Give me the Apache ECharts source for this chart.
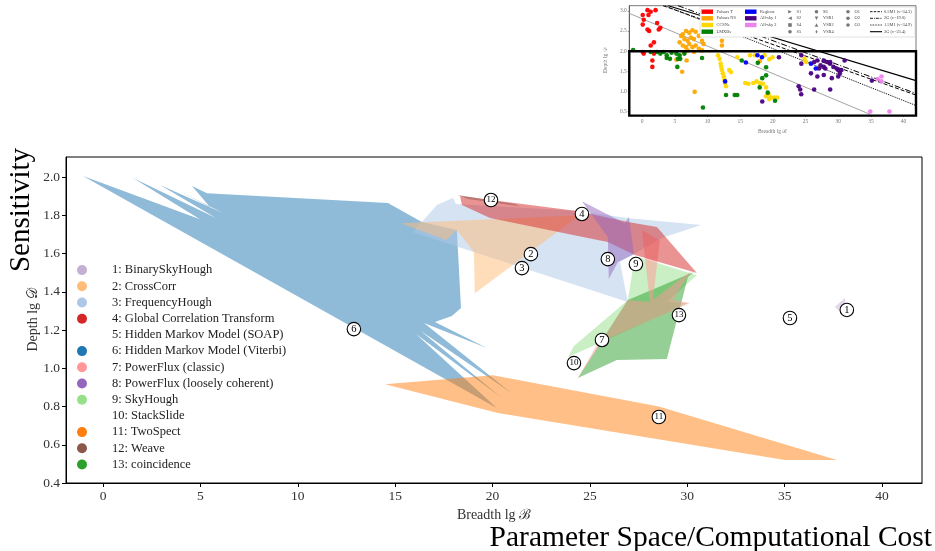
<!DOCTYPE html>
<html>
<head>
<meta charset="utf-8">
<script src="https://cdn.jsdelivr.net/npm/echarts@6/dist/echarts.min.js"></script>
<style>
  html, body { margin: 0; padding: 0; background: #fff; }
  #main { position: absolute; left: 0; top: 0; width: 935px; height: 551px; }
  #inset { position: absolute; left: 595px; top: 0; width: 340px; height: 140px; filter: blur(0.45px); }
</style>
</head>
<body>
<div id="main"></div>
<div id="inset"></div>
<script>
// ---------- main chart data: search methods in (breadth, depth) space ----------
const xTicks = [0, 5, 10, 15, 20, 25, 30, 35, 40];
const yTicks = [0.4, 0.6, 0.8, 1.0, 1.2, 1.4, 1.6, 1.8, 2.0];

const methodNames = [
  '1: BinarySkyHough', '2: CrossCorr', '3: FrequencyHough', '4: Global Correlation Transform',
  '5: Hidden Markov Model (SOAP)', '6: Hidden Markov Model (Viterbi)', '7: PowerFlux (classic)',
  '8: PowerFlux (loosely coherent)', '9: SkyHough', '10: StackSlide', '11: TwoSpect', '12: Weave',
  '13: coincidence'
];
const methodColors = [
  '#c5b0d5', '#ffbb78', '#aec7e8', '#d62728', null, '#1f77b4', '#ff9896',
  '#9467bd', '#98df8a', null, '#ff7f0e', '#8c564b', '#2ca02c'
];

// region outlines, [breadth, depth] vertices
const binarySkyHough = [[37.57, 1.320], [38.09, 1.367], [38.19, 1.268]];
const crossCorr = [[15.30, 1.759], [24.48, 1.801], [19.09, 1.393], [19.04, 1.608], [18.17, 1.723], [17.61, 1.671]];
const frequencyHough = [[15.91, 1.712], [17.14, 1.854], [17.97, 1.890], [18.12, 1.859], [24.48, 1.822], [26.90, 1.786],
  [30.70, 1.749], [28.69, 1.681], [26.54, 1.556], [26.95, 1.346]];
const globalCorrelation = [[18.33, 1.901], [24.33, 1.822], [26.95, 1.765], [28.44, 1.739], [30.49, 1.498], [27.31, 1.592],
  [25.92, 1.660], [24.64, 1.686], [19.87, 1.786], [18.43, 1.854]];
const hmmSoap = [];
const hmmViterbi = [[-1.03, 2.005], [4.98, 1.780], [1.54, 1.995], [5.80, 1.786], [2.93, 1.958], [6.16, 1.812],
  [3.80, 1.932], [5.49, 1.843], [4.57, 1.953], [5.34, 1.916], [14.63, 1.864], [16.37, 1.765], [18.17, 1.723],
  [18.38, 1.315], [17.91, 1.273], [17.04, 1.242], [19.71, 1.106], [16.48, 1.237], [20.99, 0.870], [16.32, 1.195],
  [20.48, 0.844], [16.07, 1.179], [20.22, 0.792]];
const powerFluxClassic = [[24.33, 0.938], [26.95, 1.357], [28.08, 1.346], [27.67, 1.723], [28.59, 1.670], [28.23, 1.357],
  [30.18, 1.508], [29.26, 1.357], [30.13, 1.341], [25.41, 1.132]];
const powerFluxLoose = [[24.59, 1.874], [26.79, 1.759], [27.00, 1.791], [27.26, 1.597], [26.43, 1.556], [25.97, 1.467], [25.92, 1.686]];
const skyHough = [[27.31, 1.587], [30.49, 1.487], [28.95, 1.346], [30.03, 1.341], [25.51, 1.132], [23.87, 1.059], [24.18, 1.116], [26.95, 1.357]];
const stackSlide = [];
const twoSpect = [[14.48, 0.917], [20.02, 0.964], [28.54, 0.800], [37.68, 0.520], [35.01, 0.520], [20.28, 0.766]];
const weave = [[18.22, 1.906], [21.15, 1.859], [21.40, 1.848], [18.74, 1.885]];
const coincidence = [[24.38, 0.949], [26.38, 1.043], [28.95, 1.048], [30.03, 1.477], [30.34, 1.503], [26.95, 1.357]];

const regions = [binarySkyHough, crossCorr, frequencyHough, globalCorrelation, hmmSoap, hmmViterbi,
  powerFluxClassic, powerFluxLoose, skyHough, stackSlide, twoSpect, weave, coincidence];

// numbered markers naming each method
const markerX = [38.19, 21.97, 21.51, 24.59, 35.27, 12.88, 25.62, 25.92, 27.36, 24.18, 28.54, 19.92, 29.57];
const markerY = [1.305, 1.597, 1.524, 1.807, 1.263, 1.205, 1.148, 1.571, 1.545, 1.027, 0.745, 1.880, 1.278];

// painting order of the translucent regions (indices into the lists above)
const paintOrder = [5, 10, 2, 1, 8, 12, 6, 3, 7, 11, 0, 4, 9];

// ---------- inset data: individual searches ----------
const insetXTicks = [0, 5, 10, 15, 20, 25, 30, 35, 40];
const insetYTicks = [0.5, 1.0, 1.5, 2.0, 2.5, 3.0];

const pulsarsTX = [0.1, 0.25, 0.1, 0.83, 1.32, 0.98, 2.06, 2.30, 0.83, 1.08, 2.55, 2.79, 1.32, 1.81, 1.81, 0.1, 0.25, 1.57, 1.57];
const pulsarsTY = [2.90, 2.78, 2.66, 3.02, 2.98, 2.90, 3.02, 2.70, 2.54, 2.50, 2.54, 2.58, 2.14, 2.22, 1.94, 1.98, 1.94, 1.77, 1.61];
const pulsarsNSX = [5.98, 6.23, 6.72, 7.21, 7.70, 8.19, 6.47, 6.96, 7.45, 7.94, 8.68, 9.17, 9.41, 6.23, 6.72, 7.21, 7.70, 8.19,
  8.68, 6.47, 6.96, 7.94, 9.17, 6.81, 6.13, 8.04, 12.21, 12.21, 17.99, 5.74, 5.25];
const pulsarsNSY = [2.38, 2.42, 2.50, 2.46, 2.52, 2.48, 2.30, 2.26, 2.34, 2.30, 2.38, 2.26, 2.18, 2.14, 2.10, 2.18, 2.10, 2.14,
  2.06, 1.98, 2.02, 1.98, 2.02, 1.77, 1.49, 0.99, 2.26, 2.14, 1.75, 2.22, 1.79];
const ccsneX = [11.62, 11.86, 12.01, 12.11, 12.21, 12.35, 12.50, 12.60, 12.70, 12.84, 13.33, 13.58, 14.56, 16.52, 17.25, 18.73,
  19.95, 19.46, 15.78, 16.27, 17.01, 17.50, 17.99, 18.48, 18.97, 18.97, 19.36, 19.71, 20.20, 20.69, 19.46, 24.85, 25.10];
const ccsneY = [1.90, 1.81, 1.69, 1.61, 1.53, 1.45, 1.37, 1.29, 1.21, 1.13, 1.53, 1.48, 1.85, 1.90, 1.90, 1.90,
  1.85, 1.80, 1.21, 1.19, 1.21, 1.25, 1.21, 1.19, 1.10, 0.88, 0.93, 0.85, 0.85, 0.85, 0.81, 1.81, 1.73];
const lmxbX = [-1.37, 1.32, 2.30, 2.79, 3.28, 3.77, 4.51, 5.25, 4.26, 3.77, 5.74, 6.47, 5.49, 5.83, 5.39, 9.17, 15.25, 17.70,
  18.97, 18.38, 18.97, 17.99, 12.84, 14.17, 14.56, 19.22, 20.34, 9.31];
const lmxbY = [2.03, 1.98, 1.98, 1.94, 1.98, 1.90, 1.96, 1.94, 1.81, 1.83, 1.90, 1.94, 1.81, 1.81, 1.61, 1.83, 1.77, 1.71,
  1.60, 1.33, 1.40, 1.10, 0.91, 0.91, 0.91, 0.97, 0.77, 0.60];
const regionsX = [12.70, 15.88, 17.65, 18.33, 25.83, 26.57];
const regionsY = [1.25, 1.72, 1.90, 1.85, 1.69, 1.57];
const allSky1X = [24.36, 20.93, 24.36, 26.32, 26.81, 27.79, 28.28, 28.77, 27.30, 27.79, 27.06, 29.26, 29.75, 30.00, 30.49, 30.25,
  30.98, 25.83, 26.81, 27.79, 29.02, 30.00, 23.95, 24.19, 24.34, 26.32, 28.77, 35.15, 28.77, 28.03, 18.38];
const allSky1Y = [1.90, 1.85, 1.69, 1.73, 1.77, 1.77, 1.73, 1.69, 1.65, 1.61, 1.57, 1.61, 1.57, 1.53, 1.53, 1.45,
  1.77, 1.45, 1.37, 1.41, 1.33, 1.37, 1.13, 1.05, 0.93, 1.05, 1.05, 1.27, 1.73, 1.57, 0.75];
const allSky2X = [36.03, 36.62, 36.62, 34.90, 37.84];
const allSky2Y = [1.31, 1.37, 1.25, 0.50, 0.50];

// reference sensitivity lines: [x0, y0, x1, y1]
const grayLine = [-1.96, 2.94, 34.9, 0.43];
const curveNames = ['0.5M1 (\u03bd=34.3)', '2G (\u03bd=19.0)', '1.5M1 (\u03bd=34.9)', '2G (\u03bd=23.4)'];
const curveStarts = [[3.2, 3.13], [5.5, 3.13], [3.5, 3.13], [4.0, 3.13]];
const curveEnds = [[41.9, 0.91], [41.9, 0.95], [41.9, 0.65], [41.9, 1.27]];
const curveDash = ['dashed', [6, 2, 1, 2], 'dotted', 'solid'];

// highlighted sub-range shown in the main chart
const zoomBox = { x0: -1.96, x1: 41.9, y0: 0.4, y1: 2.0 };

// ---------- helpers ----------
const SERIF = '"Liberation Serif", "DejaVu Serif", serif';
function rgba(hex, a) {
  const n = parseInt(hex.slice(1), 16);
  return 'rgba(' + (n >> 16 & 255) + ',' + (n >> 8 & 255) + ',' + (n & 255) + ',' + a + ')';
}
function regionSeries(i) {
  const verts = regions[i];
  const color = methodColors[i];
  return {
    type: 'custom',
    name: methodNames[i],
    silent: true,
    itemStyle: { color: color || 'rgba(0,0,0,0)' },
    data: verts,
    encode: { x: 0, y: 1 },
    renderItem: function (params, api) {
      if (params.dataIndex !== 0 || !color) return null;
      return {
        type: 'polygon',
        shape: { points: verts.map(v => api.coord(v)) },
        style: { fill: rgba(color, 0.5), stroke: null }
      };
    }
  };
}

// ---------- main chart ----------
const main = echarts.init(document.getElementById('main'), null, { renderer: 'canvas' });
const mainSeries = paintOrder.map(regionSeries);
mainSeries.push({
  type: 'scatter',
  name: 'ids',
  silent: true,
  z: 10,
  symbol: 'circle',
  symbolSize: 13.5,
  itemStyle: { color: '#fff', borderColor: '#000', borderWidth: 1.1, opacity: 1 },
  data: markerX.map((x, i) => ({
    value: [x, markerY[i]],
    label: { fontSize: i >= 9 ? 9 : 10.5 }
  })),
  label: {
    show: true, position: 'inside', color: '#000', fontFamily: SERIF,
    formatter: p => String(p.dataIndex + 1)
  }
});

main.setOption({
  animation: false,
  backgroundColor: '#fff',
  grid: { left: 66, right: 13, top: 157, bottom: 68, show: true, borderColor: '#000', borderWidth: 1 },
  xAxis: {
    type: 'value', min: -1.9, max: 42.05,
    axisLine: { onZero: false, lineStyle: { color: '#000', width: 1 } },
    axisTick: { customValues: xTicks, length: 4, lineStyle: { color: '#000' } },
    axisLabel: { customValues: xTicks, fontFamily: SERIF, fontSize: 13.5, color: '#333', margin: 6,
      formatter: v => String(v) },
    splitLine: { show: false },
    name: 'Breadth lg \u212c', nameLocation: 'middle', nameGap: 24,
    nameTextStyle: { fontFamily: SERIF, fontSize: 14, color: '#333' }
  },
  yAxis: {
    type: 'value', min: 0.4, max: 2.105,
    axisLine: { onZero: false, lineStyle: { color: '#000', width: 1 } },
    axisTick: { customValues: yTicks, length: 4, lineStyle: { color: '#000' } },
    axisLabel: { customValues: yTicks, fontFamily: SERIF, fontSize: 13.5, color: '#333', margin: 6,
      formatter: v => v.toFixed(1) },
    splitLine: { show: false },
    name: 'Depth lg \ud835\udc9f', nameLocation: 'middle', nameGap: 26, nameMoveOverlap: false,
    nameTextStyle: { fontFamily: SERIF, fontSize: 14, color: '#333' }
  },
  legend: {
    orient: 'vertical', left: 77, top: 262, padding: 0,
    selectedMode: false,
    itemWidth: 10, itemHeight: 10, itemGap: 0,
    data: methodNames.map((n, i) => ({
      name: n, icon: 'circle',
      itemStyle: { color: methodColors[i] || 'rgba(0,0,0,0)' }
    })),
    textStyle: { fontFamily: SERIF, fontSize: 12.5, color: '#222', lineHeight: 16.2, padding: [0, 0, 0, 20] }
  },
  graphic: [
    { type: 'text', x: 21, y: 210, rotation: Math.PI / 2,
      style: { text: 'Sensitivity', fontFamily: SERIF, fontSize: 29, fill: '#000', align: 'center', verticalAlign: 'middle' } },
    { type: 'text', x: 932, y: 538,
      style: { text: 'Parameter Space/Computational Cost', fontFamily: SERIF, fontSize: 29.5, fill: '#000', align: 'right', verticalAlign: 'middle' } }
  ],
  series: mainSeries
});

// ---------- inset chart ----------
const inset = echarts.init(document.getElementById('inset'), null, { renderer: 'canvas' });
function pts(xs, ys) { return xs.map((x, i) => [x, ys[i]]); }
function dots(name, xs, ys, color) {
  return { type: 'scatter', name, silent: true, symbol: 'circle', symbolSize: 4.6,
    itemStyle: { color, opacity: 0.95 }, data: pts(xs, ys), z: 4 };
}
const insetSeries = [
  { type: 'line', silent: true, symbol: 'none', data: [[grayLine[0], grayLine[1]], [grayLine[2], grayLine[3]]],
    lineStyle: { color: '#999', width: 0.9 }, z: 2 }
];
curveNames.forEach((n, i) => {
  insetSeries.push({ type: 'line', name: n, silent: true, symbol: 'none',
    data: [curveStarts[i], curveEnds[i]],
    lineStyle: { color: '#000', width: i === 3 ? 1.2 : 1, type: curveDash[i] }, z: 3 });
});
insetSeries.push(
  dots('Pulsars T', pulsarsTX, pulsarsTY, '#ff0000'),
  dots('Pulsars NS', pulsarsNSX, pulsarsNSY, '#ffa500'),
  dots('CCSNe', ccsneX, ccsneY, '#ffd700'),
  dots('LMXBs', lmxbX, lmxbY, '#008000'),
  dots('Regions', regionsX, regionsY, '#0000ff'),
  dots('All-sky 1', allSky1X, allSky1Y, '#4b0082'),
  dots('All-sky 2', allSky2X, allSky2Y, '#ee82ee')
);
insetSeries.push({
  type: 'custom', silent: true, z: 6,
  data: [[zoomBox.x0, zoomBox.y0, zoomBox.x1, zoomBox.y1]],
  renderItem: function (params, api) {
    const a = api.coord([api.value(0), api.value(1)]);
    const b = api.coord([api.value(2), api.value(3)]);
    return { type: 'rect', shape: { x: a[0], y: b[1], width: b[0] - a[0], height: a[1] - b[1] },
      style: { fill: null, stroke: '#000', lineWidth: 2.4 } };
  }
});

// inset legend
const legendRows = [11.7, 18.3, 25, 31.7];
const legendBlocks = [
  { names: ['Pulsars T', 'Pulsars NS', 'CCSNe', 'LMXBs'], colors: ['#ff0000', '#ffa500', '#ffd700', '#008000'], x: 106.5 },
  { names: ['Regions', 'All-sky 1', 'All-sky 2'], colors: ['#0000ff', '#4b0082', '#ee82ee'], x: 150 }
];
const runCols = [
  { names: ['S1', 'S2', 'S4', 'S5'], shapes: ['tr', 'tl', 'sq', 'ci'], x: 195 },
  { names: ['S6', 'VSR1', 'VSR2', 'VSR4'], shapes: ['ci', 'td', 'tu', 'di'], x: 221.5 },
  { names: ['O1', 'O2', 'O3'], shapes: ['ci', 'ci', 'ci'], x: 253 }
];
const lg = [{ type: 'rect', shape: { x: 105, y: 7, width: 215, height: 30, r: 1 },
  style: { fill: '#fff', stroke: '#ccc', lineWidth: 0.6 }, z: 20 }];
const tStyle = (t, x, y) => ({ type: 'text', x, y, z: 21,
  style: { text: t, fontFamily: SERIF, fontSize: 4.4, fill: '#444', verticalAlign: 'middle' } });
legendBlocks.forEach(b => b.names.forEach((n, i) => {
  lg.push({ type: 'rect', z: 21, shape: { x: b.x, y: legendRows[i] - 2.2, width: 11.5, height: 4.4 }, style: { fill: b.colors[i] } });
  lg.push(tStyle(n, b.x + 15, legendRows[i]));
}));
function shapeEl(kind, cx, cy) {
  const r = 1.8;
  const poly = {
    tr: [[cx - r, cy - r], [cx + r, cy], [cx - r, cy + r]],
    tl: [[cx + r, cy - r], [cx - r, cy], [cx + r, cy + r]],
    td: [[cx - r, cy - r], [cx + r, cy - r], [cx, cy + r]],
    tu: [[cx - r, cy + r], [cx + r, cy + r], [cx, cy - r]],
    di: [[cx, cy - r], [cx + r * 0.6, cy], [cx, cy + r], [cx - r * 0.6, cy]],
    sq: [[cx - r, cy - r], [cx + r, cy - r], [cx + r, cy + r], [cx - r, cy + r]]
  }[kind];
  if (poly) return { type: 'polygon', z: 21, shape: { points: poly }, style: { fill: '#777' } };
  return { type: 'circle', z: 21, shape: { cx, cy, r }, style: { fill: '#777' } };
}
runCols.forEach(c => c.names.forEach((n, i) => {
  lg.push(shapeEl(c.shapes[i], c.x, legendRows[i]));
  lg.push(tStyle(n, c.x + 6.5, legendRows[i]));
}));
curveNames.forEach((n, i) => {
  lg.push({ type: 'line', z: 21, shape: { x1: 275, y1: legendRows[i], x2: 287, y2: legendRows[i] },
    style: { stroke: '#000', lineWidth: i === 3 ? 1.1 : 0.9,
      lineDash: curveDash[i] === 'dashed' ? [2.5, 1.2] : curveDash[i] === 'dotted' ? [0.8, 0.8] : Array.isArray(curveDash[i]) ? [3, 1, 0.8, 1] : null } });
  lg.push(tStyle(n, 289, legendRows[i]));
});

inset.setOption({
  animation: false,
  grid: { left: 22.7, right: 19, top: 5.7, bottom: 21.7, show: true, borderColor: '#555', borderWidth: 0.8 },
  xAxis: {
    type: 'value', min: -1.96, max: 41.9,
    axisLine: { onZero: false, lineStyle: { color: '#555', width: 0.8 } },
    axisTick: { customValues: insetXTicks, length: 1.5, lineStyle: { color: '#555', width: 0.6 } },
    axisLabel: { customValues: insetXTicks, fontFamily: SERIF, fontSize: 5.5, color: '#777', margin: 2.5 },
    splitLine: { show: false },
    name: 'Breadth lg \u212c', nameLocation: 'middle', nameGap: 9,
    nameTextStyle: { fontFamily: SERIF, fontSize: 5.5, color: '#777' }
  },
  yAxis: {
    type: 'value', min: 0.4, max: 3.13,
    axisLine: { onZero: false, lineStyle: { color: '#555', width: 0.8 } },
    axisTick: { customValues: insetYTicks, length: 1.5, lineStyle: { color: '#555', width: 0.6 } },
    axisLabel: { customValues: insetYTicks, fontFamily: SERIF, fontSize: 5.5, color: '#777', margin: 2.5,
      formatter: v => v.toFixed(1) },
    splitLine: { show: false },
    name: 'Depth lg \ud835\udc9f', nameLocation: 'middle', nameGap: 5,
    nameTextStyle: { fontFamily: SERIF, fontSize: 5.5, color: '#777' }
  },
  graphic: lg,
  series: insetSeries
});
</script>
</body>
</html>
